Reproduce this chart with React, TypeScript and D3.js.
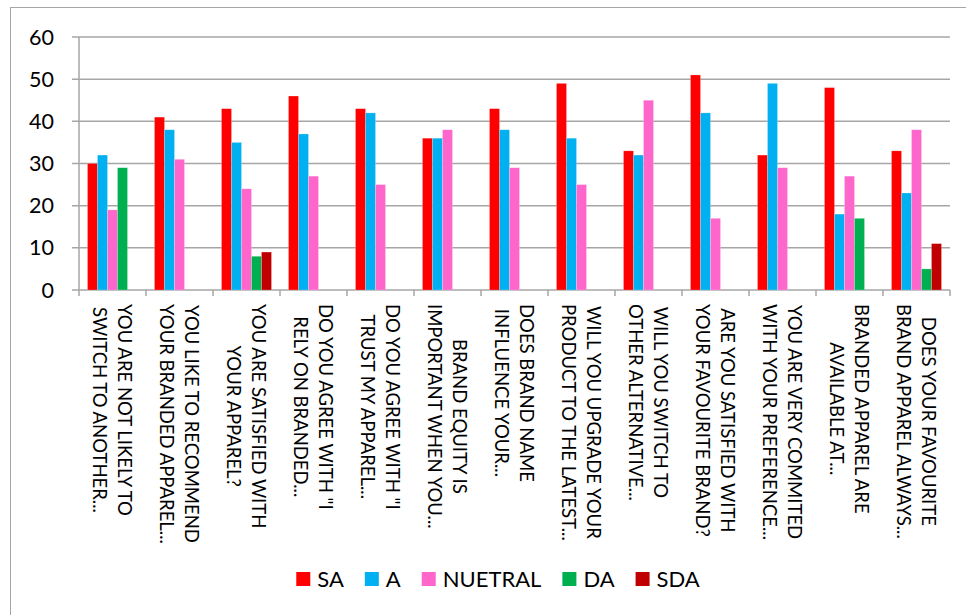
import { useEffect, useRef } from 'react';
import * as d3 from 'd3';

// question labels, two lines each (split on "|")
const categories = [
  'YOU ARE NOT LIKELY TO|SWITCH TO ANOTHER...',
  'YOU LIKE TO RECOMMEND|YOUR BRANDED APPAREL...',
  'YOU ARE SATISFIED WITH|YOUR APPAREL?',
  'DO YOU AGREE WITH "I|RELY ON BRANDED...',
  'DO YOU AGREE WITH "I|TRUST MY APPAREL...',
  'BRAND EQUITY IS|IMPORTANT WHEN YOU...',
  'DOES BRAND NAME|INFLUENCE YOUR...',
  'WILL YOU UPGRADE YOUR|PRODUCT TO THE LATEST...',
  'WILL YOU SWITCH TO|OTHER ALTERNATIVE...',
  'ARE YOU SATISFIED WITH|YOUR FAVOURITE BRAND?',
  'YOU ARE VERY COMMITED|WITH YOUR PREFERENCE...',
  'BRANDED APPAREL ARE|AVAILABLE AT...',
  'DOES YOUR FAVOURITE|BRAND APPAREL ALWAYS...',
];

const seriesNames = ['SA', 'A', 'NUETRAL', 'DA', 'SDA'];
const seriesColors = ['#ff0000', '#00b0f0', '#ff66cc', '#00b050', '#c00000'];

const SA = [30, 41, 43, 46, 43, 36, 43, 49, 33, 51, 32, 48, 33];
const A = [32, 38, 35, 37, 42, 36, 38, 36, 32, 42, 49, 18, 23];
const NUETRAL = [19, 31, 24, 27, 25, 38, 29, 25, 45, 17, 29, 27, 38];
const DA = [29, 0, 8, 0, 0, 0, 0, 0, 0, 0, 0, 17, 5];
const SDA = [0, 0, 9, 0, 0, 0, 0, 0, 0, 0, 0, 0, 11];

const yTicks = [0, 10, 20, 30, 40, 50, 60];

const FONT = 'Lato, "Open Sans", sans-serif';

const App = () => {
  const ref = useRef<SVGSVGElement | null>(null);

  useEffect(() => {
    const svg = d3.select(ref.current);
    svg.selectAll('*').remove();

    const left = 79, right = 950, top = 37, bottom = 290;
    const values = [SA, A, NUETRAL, DA, SDA];

    // chart border
    svg.append('rect')
      .attr('x', 10.5).attr('y', 7.5)
      .attr('width', 990).attr('height', 620)
      .attr('fill', '#fff').attr('stroke', '#a6a6a6');

    const y = d3.scaleLinear().domain([0, 60]).range([bottom, top]);
    const x0 = d3.scaleBand<number>()
      .domain(categories.map((_, i) => i))
      .range([left, right]);
    const x1 = d3.scaleBand<number>()
      .domain(seriesNames.map((_, i) => i))
      .range([0, x0.bandwidth()])
      .paddingOuter(0.85);

    // gridlines
    svg.append('g').selectAll('line').data(yTicks).join('line')
      .attr('x1', left - 7).attr('x2', right)
      .attr('y1', d => y(d)).attr('y2', d => y(d))
      .attr('stroke', '#a6a6a6').attr('stroke-width', 1.5);

    // y axis line
    svg.append('line')
      .attr('x1', left).attr('x2', left).attr('y1', top).attr('y2', bottom)
      .attr('stroke', '#a6a6a6').attr('stroke-width', 1.5);

    // y labels
    svg.append('g').selectAll('text').data(yTicks).join('text')
      .attr('x', 54).attr('y', d => y(d))
      .attr('dy', '0.35em')
      .attr('text-anchor', 'end')
      .attr('font-family', FONT).attr('font-size', 21.5).attr('fill', '#000')
      .text(d => d);

    // category ticks
    const tickPos = categories.map((_, i) => x0(i)!).concat([right]);
    svg.append('g').selectAll('line').data(tickPos).join('line')
      .attr('x1', d => d).attr('x2', d => d)
      .attr('y1', bottom).attr('y2', bottom + 6)
      .attr('stroke', '#a6a6a6').attr('stroke-width', 1.5);

    // bars
    values.forEach((vals, s) => {
      svg.append('g').selectAll('rect').data(vals).join('rect')
        .attr('x', (_, i) => x0(i)! + x1(s)!)
        .attr('width', x1.bandwidth())
        .attr('y', d => y(d))
        .attr('height', d => bottom - y(d))
        .attr('fill', seriesColors[s])
        .attr('stroke', d => (d > 0 ? '#ffffff' : 'none'))
        .attr('stroke-opacity', 0.35)
        .attr('stroke-width', 0.6);
    });

    // category labels (rotated, two lines, centred on longest line)
    const labelTop = 304;
    const lineGap = 12.5;
    categories.forEach((c, i) => {
      const lines = c.split('|');
      const cx = x0(i)! + x0.bandwidth() / 2;
      const g = svg.append('g');
      const texts = lines.map(ln => g.append('text')
        .attr('font-family', FONT).attr('font-size', 18.5).attr('fill', '#000')
        .attr('text-anchor', 'middle')
        .attr('dominant-baseline', 'central')
        .text(ln));
      const maxLen = d3.max(texts, t => (t.node() as SVGTextElement).getComputedTextLength()) || 0;
      texts.forEach((t, k) => {
        const lx = cx + (k === 0 ? lineGap : -lineGap);
        t.attr('transform', `translate(${lx},${labelTop + maxLen / 2}) rotate(90)`);
      });
    });

    // legend
    const legend = svg.append('g');
    const items = seriesNames.map((name, i) => {
      const t = legend.append('text')
        .attr('font-family', FONT).attr('font-size', 22).attr('fill', '#000')
        .attr('y', 587)
        .text(name);
      const w = (t.node() as SVGTextElement).getComputedTextLength();
      return { t, w, i };
    });
    const box = 14, boxGap = 7, itemGap = 21;
    const total = d3.sum(items, d => box + boxGap + d.w) + itemGap * (items.length - 1);
    let cur = 498 - total / 2;
    items.forEach(d => {
      legend.append('rect')
        .attr('x', cur).attr('y', 572)
        .attr('width', box).attr('height', box)
        .attr('fill', seriesColors[d.i]);
      d.t.attr('x', cur + box + boxGap);
      cur += box + boxGap + d.w + itemGap;
    });
  }, []);

  return (
    <svg
      ref={ref}
      width={966}
      height={615}
      style={{ position: 'absolute', left: 0, top: 0, background: '#fff' }}
    />
  );
};

export default App;
